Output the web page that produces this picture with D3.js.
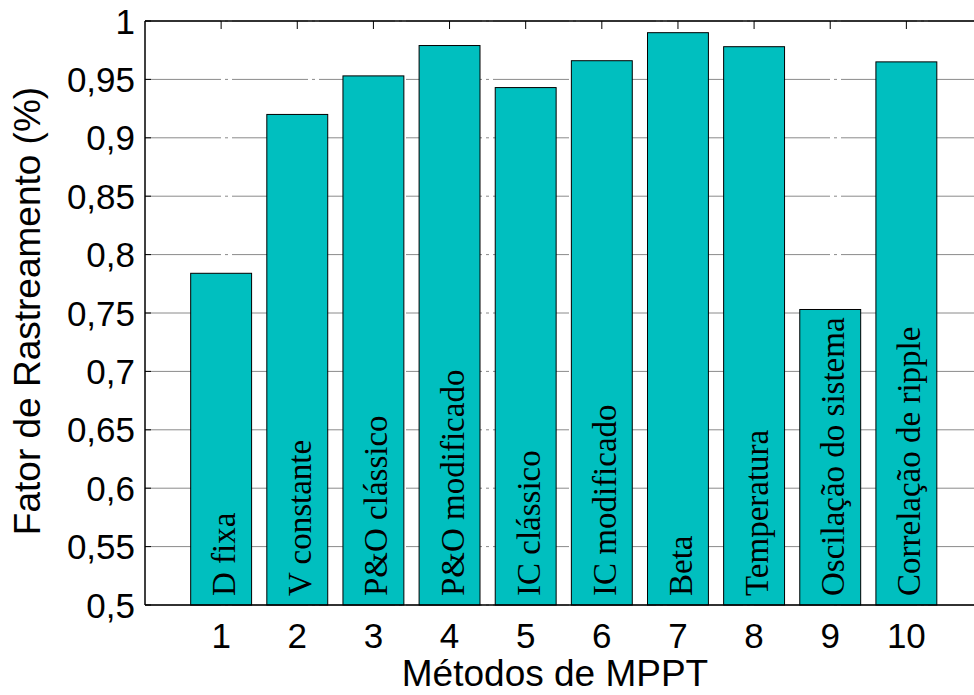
<!DOCTYPE html>
<html>
<head>
    <meta charset="utf-8">
    <title>Fator de Rastreamento</title>
    <script type="text/javascript" src="https://cdn.jsdelivr.net/npm/d3@7"></script>
    <style>
        body { margin: 0; background: #fff; }
        .tick-label { font-family: "Liberation Sans", Arial, sans-serif; font-size: 35px; fill: #000; }
        .axis-title { font-family: "Liberation Sans", Arial, sans-serif; font-size: 37px; fill: #000; }
        .bar-label { font-family: "Liberation Serif", "Times New Roman", serif; font-size: 33px; fill: #000; }
    </style>
</head>

<body>

<script type="text/javascript">
    var methods = ["D fixa", "V constante", "P&O clássico", "P&O modificado", "IC clássico",
                   "IC modificado", "Beta", "Temperatura", "Oscilação do sistema", "Correlação de ripple"];
    var positions = [1, 2, 3, 4, 5, 6, 7, 8, 9, 10];
    var values = [0.784, 0.920, 0.953, 0.979, 0.943, 0.966, 0.990, 0.978, 0.753, 0.965];
    var yTicks = [0.5, 0.55, 0.6, 0.65, 0.7, 0.75, 0.8, 0.85, 0.9, 0.95, 1];
    var yTickLabels = ["0,5", "0,55", "0,6", "0,65", "0,7", "0,75", "0,8", "0,85", "0,9", "0,95", "1"];

    var w = 974,
            h = 695,
            plotLeft = 145,
            plotRight = 982.5,
            plotTop = 21,
            plotBottom = 605;

    var x = d3.scaleLinear().domain([0, 11]).range([plotLeft, plotRight]);
    var y = d3.scaleLinear().domain([0.5, 1]).range([plotBottom, plotTop]);
    var barWidth = x(0.8) - x(0);

    var svg = d3.select("body").append("svg")
            .attr("width", w)
            .attr("height", h);

    // dash-dot grid
    svg.selectAll("line.grid")
        .data(yTicks)
      .enter().append("line")
        .attr("class", "grid")
        .attr("x1", plotLeft)
        .attr("x2", plotRight)
        .attr("y1", function(d) { return y(d); })
        .attr("y2", function(d) { return y(d); })
        .style("stroke", "#8a8a8a")
        .style("stroke-width", "1px")
        .style("stroke-dasharray", "76,4,3,4");

    svg.selectAll("rect.bar")
        .data(values)
      .enter().append("rect")
        .attr("class", "bar")
        .attr("x", function(d, i) { return x(positions[i]) - barWidth / 2; })
        .attr("width", barWidth)
        .attr("y", function(d) { return y(d); })
        .attr("height", function(d) { return y(0.5) - y(d); })
        .style("fill", "#00bfbf")
        .style("stroke", "#000")
        .style("stroke-width", "1px");

    svg.selectAll("text.bar-label")
        .data(methods)
      .enter().append("text")
        .attr("class", "bar-label")
        .attr("transform", function(d, i) {
            return "translate(" + (x(positions[i]) + 14) + "," + (plotBottom - 9) + ") rotate(-90)";
        })
        .text(function(d) { return d; });

    // axes box (left, top, bottom)
    svg.append("line").attr("x1", plotLeft).attr("x2", plotLeft).attr("y1", plotTop).attr("y2", plotBottom)
        .style("stroke", "#000").style("stroke-width", "1.5px");
    svg.append("line").attr("x1", plotLeft).attr("x2", plotRight).attr("y1", plotTop).attr("y2", plotTop)
        .style("stroke", "#000").style("stroke-width", "1.5px");
    svg.append("line").attr("x1", plotLeft).attr("x2", plotRight).attr("y1", plotBottom).attr("y2", plotBottom)
        .style("stroke", "#000").style("stroke-width", "1.5px");

    // inward ticks
    svg.selectAll("line.xtick")
        .data(positions)
      .enter().append("line")
        .attr("class", "xtick")
        .attr("x1", function(d) { return x(d); })
        .attr("x2", function(d) { return x(d); })
        .attr("y1", plotTop)
        .attr("y2", plotTop + 8)
        .style("stroke", "#000")
        .style("stroke-width", "1px");

    svg.selectAll("line.ytick")
        .data(yTicks)
      .enter().append("line")
        .attr("class", "ytick")
        .attr("x1", plotLeft)
        .attr("x2", plotLeft + 6)
        .attr("y1", function(d) { return y(d); })
        .attr("y2", function(d) { return y(d); })
        .style("stroke", "#000")
        .style("stroke-width", "1px");

    svg.selectAll("text.ylab")
        .data(yTicks)
      .enter().append("text")
        .attr("class", "tick-label ylab")
        .attr("x", plotLeft - 10)
        .attr("y", function(d) { return y(d); })
        .attr("dy", "0.36em")
        .attr("text-anchor", "end")
        .text(function(d, i) { return yTickLabels[i]; });

    svg.selectAll("text.xlab")
        .data(positions)
      .enter().append("text")
        .attr("class", "tick-label xlab")
        .attr("x", function(d) { return x(d); })
        .attr("y", 648)
        .attr("text-anchor", "middle")
        .text(function(d) { return d; });

    svg.append("text")
        .attr("class", "axis-title")
        .attr("x", 555)
        .attr("y", 686)
        .attr("text-anchor", "middle")
        .text("Métodos de MPPT");

    svg.append("text")
        .attr("class", "axis-title")
        .attr("transform", "translate(40,311) rotate(-90)")
        .attr("text-anchor", "middle")
        .text("Fator de Rastreamento (%)");
</script>

</body>

</html>
